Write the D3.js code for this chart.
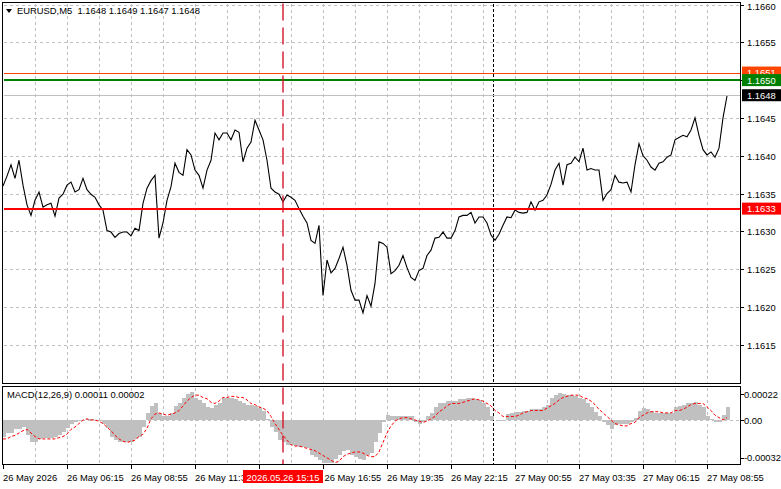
<!DOCTYPE html>
<html><head><meta charset="utf-8">
<script src="https://cdn.jsdelivr.net/npm/d3@7"></script>
<style>
html,body{margin:0;padding:0;background:#fff;overflow:hidden}
svg{display:block}
text{font-family:"Liberation Sans",Arial,sans-serif;font-size:9.4px;white-space:pre}
</style>
</head><body>
<svg id="c" width="781" height="489"></svg>
<script>
// ---------------- data ----------------
const symbolTitle = "EURUSD,M5";
const ohlc = ["1.1648", "1.1649", "1.1647", "1.1648"];
const startTime = "2026-05-26T03:35";   // first bar
const stepMinutes = 10;                 // one sampled point every 10 minutes (2 M5 bars)
const barMinutes = 5;

const closes = [
1.16360,1.16373,1.16388,1.16370,1.16394,1.16361,1.16335,1.16321,1.16341,1.16352,
1.16332,1.16335,1.16337,1.16320,1.16344,1.16349,1.16361,1.16365,1.16352,1.16355,
1.16370,1.16355,1.16349,1.16345,1.16335,1.16328,1.16301,1.16299,1.16292,1.16297,
1.16299,1.16299,1.16294,1.16304,1.16301,1.16337,1.16357,1.16367,1.16374,1.16291,
1.16311,1.16341,1.16359,1.16390,1.16378,1.16374,1.16408,1.16401,1.16381,1.16374,
1.16357,1.16381,1.16394,1.16430,1.16421,1.16430,1.16430,1.16421,1.16434,1.16431,
1.16392,1.16410,1.16418,1.16447,1.16434,1.16421,1.16394,1.16357,1.16352,1.16349,
1.16339,1.16348,1.16345,1.16341,1.16330,1.16320,1.16311,1.16288,1.16284,1.16308,
1.16215,1.16262,1.16245,1.16251,1.16264,1.16279,1.16255,1.16222,1.16209,1.16209,
1.16192,1.16215,1.16201,1.16231,1.16286,1.16284,1.16279,1.16244,1.16248,1.16255,
1.16268,1.16252,1.16239,1.16235,1.16248,1.16251,1.16268,1.16275,1.16291,1.16292,
1.16299,1.16291,1.16291,1.16301,1.16319,1.16321,1.16321,1.16325,1.16311,1.16319,
1.16319,1.16311,1.16295,1.16288,1.16296,1.16308,1.16319,1.16318,1.16328,1.16325,
1.16324,1.16325,1.16339,1.16328,1.16339,1.16341,1.16348,1.16362,1.16381,1.16390,
1.16361,1.16388,1.16390,1.16398,1.16392,1.16410,1.16381,1.16383,1.16381,1.16381,
1.16341,1.16350,1.16355,1.16374,1.16365,1.16364,1.16365,1.16352,1.16388,1.16416,
1.16400,1.16394,1.16385,1.16381,1.16390,1.16392,1.16398,1.16401,1.16421,1.16424,
1.16427,1.16425,1.16434,1.16450,1.16427,1.16408,1.16401,1.16405,1.16398,1.16410,
1.16450,1.16479];

const macdHist = [
-0.00014,-0.00011,-0.00011,-0.00008,-0.00008,-0.00006,-0.00013,-0.00019,-0.00019,-0.00016,
-0.00015,-0.00015,-0.00015,-0.00014,-0.00013,-0.00010,-0.00007,-0.00003,-0.00002,-0.00001,
0.00000,0.00001,0.00001,0.00000,-0.00001,-0.00003,-0.00007,-0.00014,-0.00017,-0.00019,
-0.00019,-0.00019,-0.00019,-0.00016,-0.00014,-0.00006,0.00006,0.00012,0.00014,0.00006,
0.00003,0.00003,0.00006,0.00012,0.00014,0.00019,0.00022,0.00024,0.00019,0.00017,
0.00014,0.00011,0.00010,0.00013,0.00014,0.00019,0.00019,0.00019,0.00018,0.00016,
0.00014,0.00013,0.00013,0.00012,0.00010,0.00008,0.00001,-0.00006,-0.00010,-0.00017,
-0.00019,-0.00021,-0.00021,-0.00022,-0.00023,-0.00023,-0.00024,-0.00030,-0.00031,-0.00034,
-0.00036,-0.00036,-0.00036,-0.00033,-0.00030,-0.00026,-0.00025,-0.00030,-0.00031,-0.00033,
-0.00034,-0.00030,-0.00028,-0.00019,-0.00011,-0.00002,0.00004,0.00003,0.00003,0.00003,
0.00003,0.00003,0.00003,-0.00002,-0.00003,-0.00002,0.00003,0.00006,0.00011,0.00014,
0.00014,0.00016,0.00016,0.00016,0.00018,0.00018,0.00019,0.00019,0.00018,0.00017,
0.00014,0.00011,0.00003,0.00000,-0.00001,-0.00001,0.00005,0.00006,0.00007,0.00007,
0.00008,0.00008,0.00009,0.00009,0.00009,0.00011,0.00013,0.00019,0.00021,0.00023,
0.00022,0.00021,0.00021,0.00020,0.00019,0.00018,0.00014,0.00011,0.00007,0.00003,
-0.00002,-0.00004,-0.00008,-0.00004,-0.00003,-0.00003,-0.00003,-0.00002,0.00002,0.00008,
0.00010,0.00009,0.00008,0.00006,0.00006,0.00006,0.00006,0.00006,0.00011,0.00012,
0.00013,0.00014,0.00014,0.00015,0.00013,0.00011,0.00003,0.00001,-0.00002,-0.00002,
0.00004,0.00011];

const macdSignal = [
-0.00016,-0.00016,-0.00014,-0.00013,-0.00011,-0.00009,-0.00008,-0.00011,-0.00014,-0.00016,
-0.00016,-0.00016,-0.00016,-0.00016,-0.00015,-0.00014,-0.00012,-0.00008,-0.00006,-0.00003,
0.00000,0.00001,0.00000,0.00000,-0.00001,-0.00003,-0.00006,-0.00009,-0.00013,-0.00016,
-0.00018,-0.00019,-0.00018,-0.00017,-0.00014,-0.00012,-0.00007,0.00001,0.00005,0.00006,
0.00005,0.00004,0.00005,0.00006,0.00008,0.00012,0.00016,0.00019,0.00021,0.00021,
0.00019,0.00018,0.00015,0.00014,0.00016,0.00019,0.00019,0.00020,0.00020,0.00019,
0.00019,0.00017,0.00014,0.00013,0.00011,0.00010,0.00008,0.00003,-0.00003,-0.00008,
-0.00013,-0.00017,-0.00021,-0.00022,-0.00022,-0.00023,-0.00024,-0.00025,-0.00026,-0.00028,
-0.00030,-0.00032,-0.00034,-0.00036,-0.00035,-0.00031,-0.00029,-0.00028,-0.00027,-0.00027,
-0.00028,-0.00030,-0.00031,-0.00031,-0.00027,-0.00019,-0.00011,-0.00005,-0.00001,0.00001,
0.00002,0.00002,0.00001,0.00000,-0.00001,-0.00002,-0.00001,0.00001,0.00003,0.00007,
0.00009,0.00012,0.00014,0.00014,0.00014,0.00015,0.00016,0.00017,0.00018,0.00017,
0.00016,0.00014,0.00012,0.00008,0.00006,0.00003,0.00003,0.00003,0.00003,0.00004,
0.00006,0.00007,0.00008,0.00008,0.00008,0.00008,0.00010,0.00012,0.00014,0.00017,
0.00019,0.00020,0.00021,0.00021,0.00021,0.00019,0.00018,0.00016,0.00013,0.00009,
0.00006,0.00003,0.00000,-0.00003,-0.00004,-0.00005,-0.00005,-0.00003,-0.00002,0.00002,
0.00004,0.00006,0.00007,0.00007,0.00007,0.00006,0.00006,0.00006,0.00008,0.00008,
0.00009,0.00011,0.00013,0.00014,0.00014,0.00014,0.00011,0.00008,0.00004,0.00002,
0.00000,0.00002];

const macdTitle = "MACD(12,26,9) 0.00011 0.00002";
const priceTicks = [1.1660, 1.1655, 1.1650, 1.1645, 1.1640, 1.1635, 1.1630, 1.1625, 1.1620, 1.1615];
const macdTicks = [0.00022, 0, -0.00032];
const macdTickLabels = ["0.00022", "0.00", "-0.00032"];
// 14:15 tick lies entirely under the crosshair time box, so it carries no visible label
const timeTicks = ["2026-05-26T03:35","2026-05-26T06:15","2026-05-26T08:55","2026-05-26T11:35",
  "2026-05-26T14:15","2026-05-26T16:55","2026-05-26T19:35","2026-05-26T22:15",
  "2026-05-27T00:55","2026-05-27T03:35","2026-05-27T06:15","2026-05-27T08:55"];
const timeLabels = ["26 May 2026","26 May 06:15","26 May 08:55","26 May 11:35",
  "","26 May 16:55","26 May 19:35","26 May 22:15",
  "27 May 00:55","27 May 03:35","27 May 06:15","27 May 08:55"];
const levelPrices = [1.1651, 1.1650, 1.1633];   // orange, green, red horizontal lines
const bidPrice = 1.1648;
const crosshairTime = "2026-05-26T15:15";
const crosshairLabel = "2026.05.26 15:15";
const daySeparatorTime = "2026-05-27T00:00";

// ---------------- layout ----------------
const L = 2.5, R = 740.5, MT = 2.5, MB = 384, ST = 386.5, SB = 464.5;
const parse = d3.timeParse("%Y-%m-%dT%H:%M");
const t0 = parse(startTime);
const MIN = 60000;
const x = d3.scaleTime()
  .domain([t0, new Date(+t0 + 368.5 * barMinutes * MIN)])
  .range([3, 740]);
const y = d3.scaleLinear().domain([1.16098, 1.16602]).range([MB, 3]);
const ym = d3.scaleLinear().domain([-0.00037230, 0.00028770]).range([SB - 0.5, ST - 0.5]);
const pts = closes.map((c, i) => ({t: new Date(+t0 + i * stepMinutes * MIN), c, h: macdHist[i], s: macdSignal[i]}));

const svg = d3.select("#c");
svg.append("rect").attr("width", 781).attr("height", 489).attr("fill", "#fff");

const gridColor = "#c0c0c0";
const grid = svg.append("g").attr("stroke", gridColor).attr("stroke-width", 1)
  .attr("stroke-dasharray", "3,3").attr("shape-rendering", "crispEdges");
const tEnd = x.domain()[1];
const vgrid = d3.timeMinute.every(1).range(t0, tEnd).filter(t => ((t - t0) / MIN) % 80 === 0 && t > t0);
vgrid.forEach(t => {
  const xx = Math.round(x(t)) + 0.5;
  if (xx >= R - 1) return;
  grid.append("line").attr("x1", xx).attr("x2", xx).attr("y1", MT + 1).attr("y2", MB);
  grid.append("line").attr("x1", xx).attr("x2", xx).attr("y1", ST + 1).attr("y2", SB - 1);
});
priceTicks.forEach(p => {
  const yy = Math.round(y(p)) + 0.5;
  grid.append("line").attr("x1", L + 1).attr("x2", R - 1).attr("y1", yy).attr("y2", yy);
});
const y0 = Math.round(ym(0)) + 0.5;
grid.append("line").attr("x1", L + 1).attr("x2", R - 1).attr("y1", y0).attr("y2", y0);

// day separator
const xs = Math.round(x(parse(daySeparatorTime))) + 0.5;
const sep = svg.append("g").attr("stroke", "#000").attr("stroke-dasharray", "3,2").attr("shape-rendering", "crispEdges");
sep.append("line").attr("x1", xs).attr("x2", xs).attr("y1", MT + 1).attr("y2", MB);
sep.append("line").attr("x1", xs).attr("x2", xs).attr("y1", ST + 1).attr("y2", SB - 1);

// MACD histogram
svg.append("g").attr("fill", "#c0c0c0").attr("shape-rendering", "crispEdges")
  .selectAll("rect").data(pts).join("rect")
  .attr("x", d => Math.round(x(d.t)) - 1)
  .attr("width", 4)
  .attr("y", d => Math.min(ym(0), ym(d.h)))
  .attr("height", d => Math.abs(ym(d.h) - ym(0)));

// signal line
svg.append("path").datum(pts)
  .attr("fill", "none").attr("stroke", "#ff0000").attr("stroke-width", 1)
  .attr("stroke-dasharray", "3,2")
  .attr("d", d3.line().x(d => x(d.t)).y(d => ym(d.s)));

// price line
svg.append("path").datum(pts)
  .attr("fill", "none").attr("stroke", "#000").attr("stroke-width", 1.1)
  .attr("d", d3.line().x(d => x(d.t)).y(d => y(d.c)));

// horizontal levels
const levelColors = ["#ff4500", "#008000", "#ff0000"];
const levelWidths = [1, 2, 2];
svg.append("line").attr("x1", L + 1).attr("x2", R).attr("y1", Math.round(y(bidPrice)) + 0.5).attr("y2", Math.round(y(bidPrice)) + 0.5)
  .attr("stroke", "#c0c0c0").attr("shape-rendering", "crispEdges");
levelPrices.forEach((p, i) => {
  const yy = levelWidths[i] === 1 ? Math.round(y(p)) + 0.5 : Math.round(y(p));
  svg.append("line").attr("x1", L + 1).attr("x2", R).attr("y1", yy).attr("y2", yy)
    .attr("stroke", levelColors[i]).attr("stroke-width", levelWidths[i]).attr("shape-rendering", "crispEdges");
});

// crosshair
const xc = x(parse(crosshairTime));
svg.append("line").attr("x1", xc).attr("x2", xc).attr("y1", MT + 1).attr("y2", SB)
  .attr("stroke", "#d8142c").attr("stroke-width", 1.4).attr("stroke-dasharray", "17,7");

// borders
const frame = svg.append("g").attr("fill", "none").attr("stroke", "#000").attr("shape-rendering", "crispEdges");
frame.append("rect").attr("x", L).attr("y", MT).attr("width", R - L).attr("height", MB - 0.5 - MT);
frame.append("rect").attr("x", L).attr("y", ST).attr("width", R - L).attr("height", SB - ST);

// header
svg.append("path").attr("d", "M6,9 L12,9 L9,13 Z").attr("fill", "#000");
svg.append("text").attr("x", 17).attr("y", 13.5).attr("fill", "#000")
  .text(symbolTitle + "  " + ohlc.join(" "));
svg.append("text").attr("x", 7).attr("y", 398).attr("fill", "#000").text(macdTitle);

// right price axis
const axisG = svg.append("g");
priceTicks.forEach(p => {
  const yy = Math.round(y(p)) + 0.5;
  axisG.append("line").attr("x1", R).attr("x2", R + 3).attr("y1", yy).attr("y2", yy)
    .attr("stroke", "#000").attr("shape-rendering", "crispEdges");
  axisG.append("text").attr("x", 747).attr("y", Math.max(9.5, yy + 3.5)).attr("fill", "#000").text(p.toFixed(4));
});
macdTicks.forEach((v, i) => {
  const yy = ym(v);
  axisG.append("line").attr("x1", R).attr("x2", R + 3).attr("y1", Math.round(Math.min(yy, SB - 1)) + 0.5).attr("y2", Math.round(Math.min(yy, SB - 1)) + 0.5)
    .attr("stroke", "#000").attr("shape-rendering", "crispEdges");
  axisG.append("text").attr("x", 744).attr("y", Math.min(464, Math.max(397.5, yy + 3.5))).attr("fill", "#000").text(macdTickLabels[i]);
});

// price boxes
function priceBox(p, fill, txt) {
  const yy = y(p);
  axisG.append("rect").attr("x", 742).attr("y", yy - 6).attr("width", 39).attr("height", 12).attr("fill", fill);
  axisG.append("text").attr("x", 747).attr("y", yy + 3.7).attr("fill", "#fff").text(txt);
}
priceBox(levelPrices[0], levelColors[0], levelPrices[0].toFixed(4));
priceBox(levelPrices[1], levelColors[1], levelPrices[1].toFixed(4));
priceBox(bidPrice, "#000", bidPrice.toFixed(4));
priceBox(levelPrices[2], levelColors[2], levelPrices[2].toFixed(4));

// time axis
timeTicks.forEach((ts, i) => {
  const xx = Math.round(x(parse(ts))) + 0.5;
  svg.append("line").attr("x1", xx).attr("x2", xx).attr("y1", SB).attr("y2", SB + 4)
    .attr("stroke", "#000").attr("shape-rendering", "crispEdges");
  if (timeLabels[i]) svg.append("text").attr("x", xx + (i === 5 ? 1 : -0.5)).attr("y", 481).attr("fill", "#000").text(timeLabels[i]);
});
// crosshair time box
svg.append("rect").attr("x", xc - 40).attr("y", 470).attr("width", 80).attr("height", 13).attr("fill", "#ff0000");
svg.append("text").attr("x", xc).attr("y", 480.5).attr("text-anchor", "middle").attr("fill", "#fff").text(crosshairLabel);
</script>
</body></html>
